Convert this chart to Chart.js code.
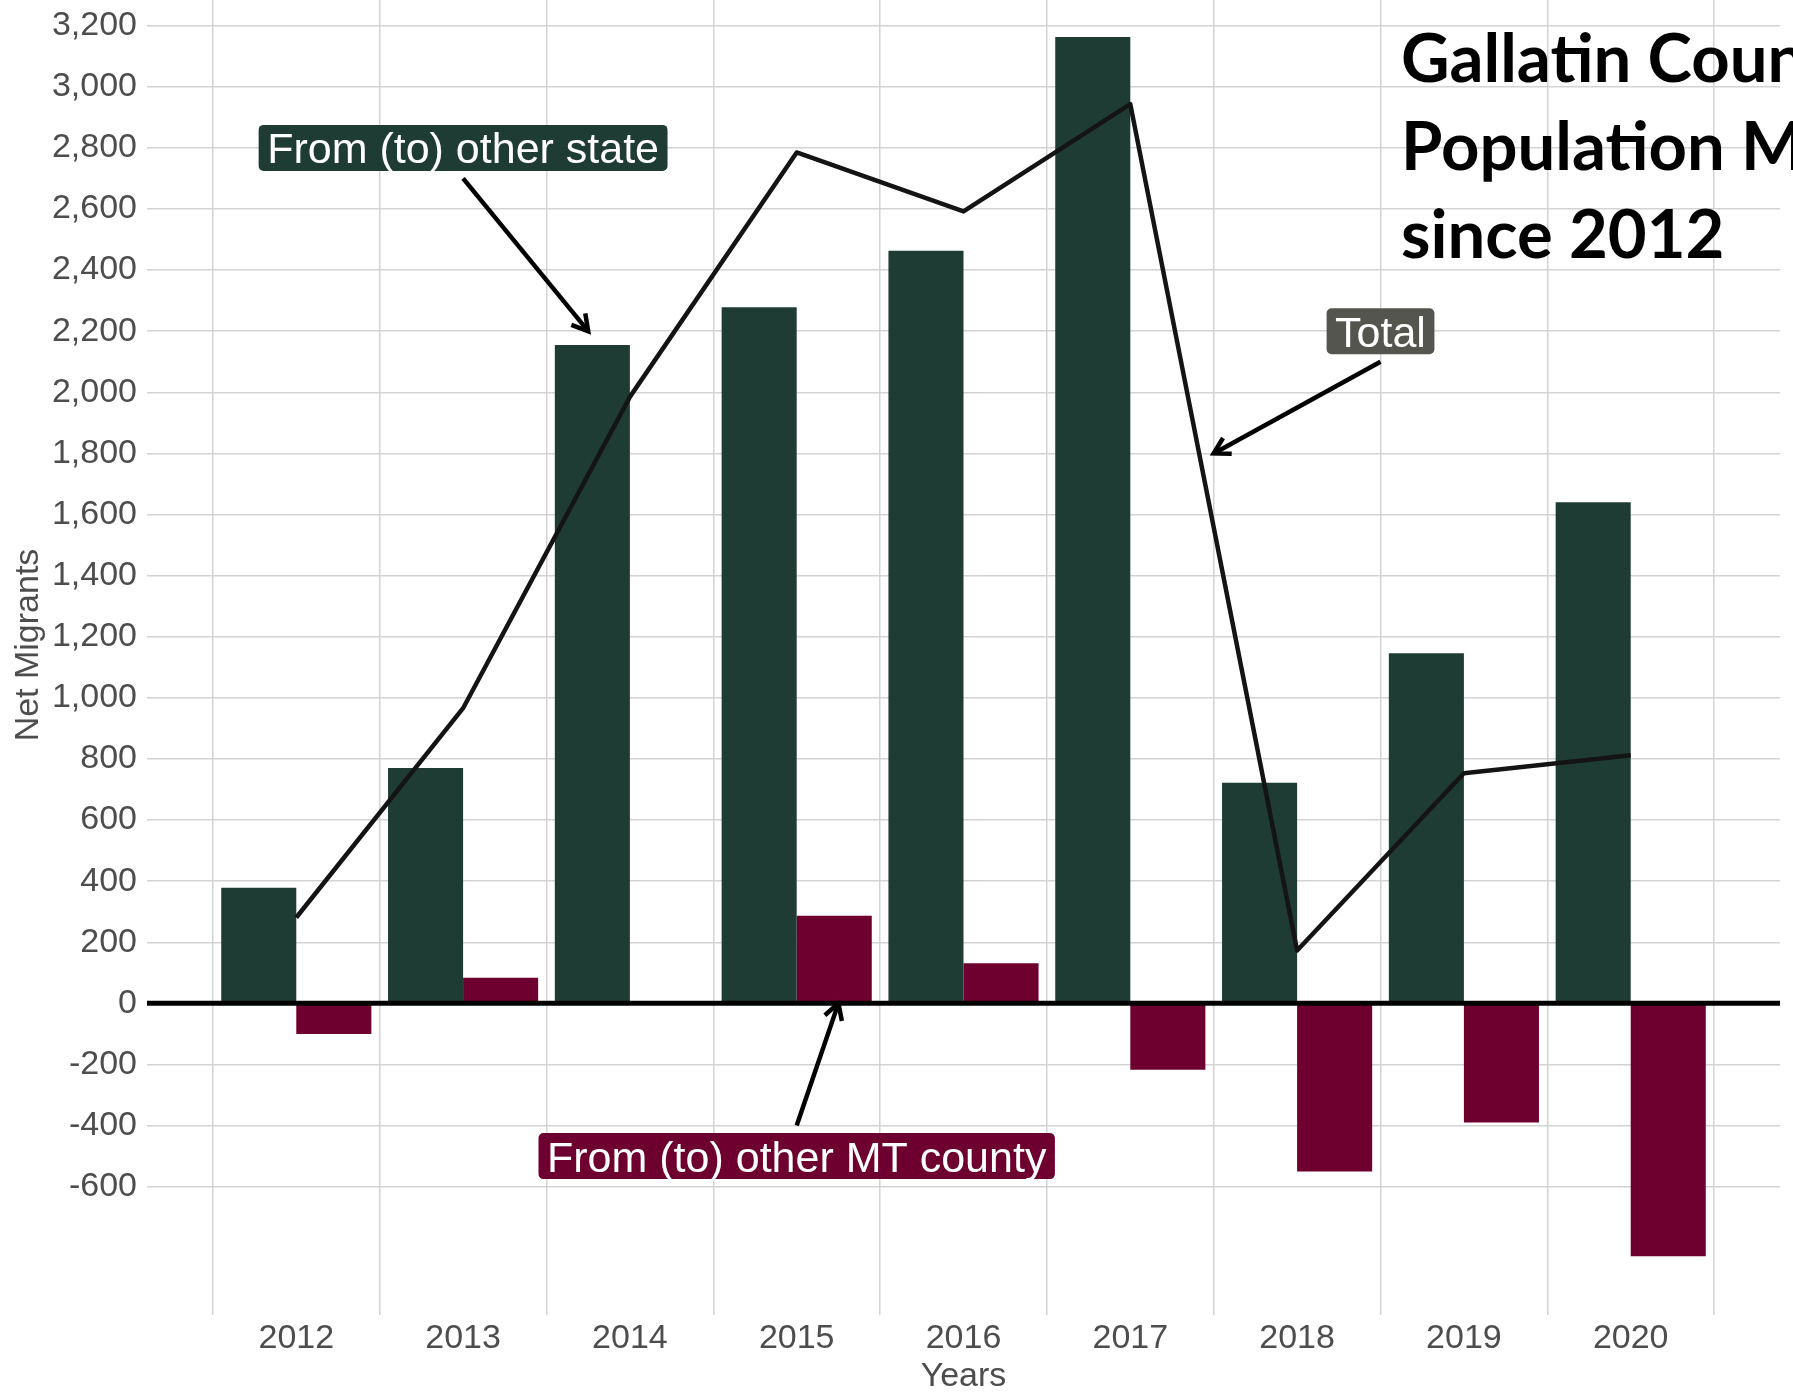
<!DOCTYPE html>
<html>
<head>
<meta charset="utf-8">
<script src="https://cdn.jsdelivr.net/npm/chart.js@4.4.1/dist/chart.umd.min.js"></script>
<style>
html,body{margin:0;padding:0;background:#ffffff;overflow:hidden;}
canvas{display:block;}
</style>
</head>
<body>
<canvas id="chart" width="1793" height="1397"></canvas>
<script>
// ---- data ----
const years = [2012, 2013, 2014, 2015, 2016, 2017, 2018, 2019, 2020];
const fromOtherState = [378, 770, 2155, 2278, 2463, 3163, 722, 1146, 1640];
const fromOtherMTCounty = [-100, 84, 0, 287, 131, -217, -550, -390, -828];
const totalNet = [281, 966, 1985, 2785, 2592, 2943, 173, 753, 812];
const yTickValues = [-600, -400, -200, 0, 200, 400, 600, 800, 1000, 1200, 1400, 1600, 1800, 2000, 2200, 2400, 2600, 2800, 3000, 3200];
const seriesNames = ['From (to) other state', 'From (to) other MT county', 'Total'];
const titleLines = ['Gallatin County', 'Population Migration', 'since 2012'];
const xAxisTitle = 'Years';
const yAxisTitle = 'Net Migrants';

// ---- styles ----
const GREEN = '#1f3c34';
const RED = '#6e0030';
const GRAY_LABEL = '#55554f';
const TEXT_GRAY = '#4d4d4d';
const GRID = '#d3d3d3';
const SANS = '"Liberation Sans", Arial, Helvetica, sans-serif';

const overlayPlugin = {
  id: 'overlay',
  afterDatasetsDraw(chart, args, opts) {
    const {ctx, chartArea, scales} = chart;
    const xs = scales.x, ys = scales.y;
    ctx.save();
    // zero line
    const y0 = ys.getPixelForValue(0);
    ctx.strokeStyle = '#000000';
    ctx.lineWidth = 5;
    ctx.beginPath();
    ctx.moveTo(chartArea.left, y0);
    ctx.lineTo(chartArea.right, y0);
    ctx.stroke();

    // arrows + labels
    opts.notes.forEach(n => {
      const x1 = xs.getPixelForValue(n.from[0]), y1 = ys.getPixelForValue(n.from[1]);
      const x2 = xs.getPixelForValue(n.to[0]), y2 = ys.getPixelForValue(n.to[1]);
      ctx.strokeStyle = '#000000';
      ctx.lineWidth = 4.5;
      ctx.lineCap = 'butt';
      ctx.lineJoin = 'miter';
      ctx.beginPath();
      ctx.moveTo(x1, y1);
      ctx.lineTo(x2, y2);
      ctx.stroke();
      const ang = Math.atan2(y1 - y2, x1 - x2);
      const L = 18, a = Math.PI / 6;
      ctx.beginPath();
      ctx.moveTo(x2 + L * Math.cos(ang + a), y2 + L * Math.sin(ang + a));
      ctx.lineTo(x2, y2);
      ctx.lineTo(x2 + L * Math.cos(ang - a), y2 + L * Math.sin(ang - a));
      ctx.stroke();

      const cx = xs.getPixelForValue(n.at[0]), cy = ys.getPixelForValue(n.at[1]);
      ctx.font = '43px ' + SANS;
      const tw = ctx.measureText(n.text).width;
      const w = tw + 17, h = 46;
      ctx.fillStyle = n.bg;
      ctx.beginPath();
      if (ctx.roundRect) ctx.roundRect(cx - w / 2, cy - h / 2, w, h, 5);
      else ctx.rect(cx - w / 2, cy - h / 2, w, h);
      ctx.fill();
      ctx.fillStyle = '#ffffff';
      ctx.textAlign = 'center';
      ctx.textBaseline = 'alphabetic';
      ctx.fillText(n.text, cx, cy + 0.358 * 43);
    });

    // y axis title (centred on the full, partly cropped panel)
    ctx.save();
    ctx.translate(29, 645);
    ctx.rotate(-Math.PI / 2);
    ctx.fillStyle = TEXT_GRAY;
    ctx.font = '34px ' + SANS;
    ctx.textAlign = 'center';
    ctx.textBaseline = 'middle';
    ctx.fillText(yAxisTitle, 0, 0);
    ctx.restore();

    // title block (overlapping plot, clipped by image edge)
    ctx.fillStyle = '#000000';
    ctx.font = 'bold 67px Lato, "Open Sans", sans-serif';
    ctx.textAlign = 'left';
    ctx.textBaseline = 'alphabetic';
    titleLines.forEach((t, i) => ctx.fillText(t, 1401, 82 + i * 88));
    ctx.restore();
  }
};

const zeroPad = s => { s.paddingTop = 0; s.paddingBottom = 0; s.paddingLeft = 0; s.paddingRight = 0; };

function build() {
  const toXY = arr => years.map((yr, i) => ({x: yr, y: arr[i]}));
  new Chart(document.getElementById('chart'), {
    type: 'bar',
    data: {
      datasets: [
        {type: 'bar', label: seriesNames[0], data: toXY(fromOtherState), backgroundColor: GREEN,
         borderWidth: 0, categoryPercentage: 0.9, barPercentage: 1.0, order: 1},
        {type: 'bar', label: seriesNames[1], data: toXY(fromOtherMTCounty), backgroundColor: RED,
         borderWidth: 0, categoryPercentage: 0.9, barPercentage: 1.0, order: 1},
        {type: 'line', label: seriesNames[2], data: toXY(totalNet), borderColor: '#141414',
         borderWidth: 4.5, pointRadius: 0, tension: 0, fill: false, borderJoinStyle: 'round', order: 0}
      ]
    },
    options: {
      responsive: false,
      animation: false,
      devicePixelRatio: 1,
      layout: {padding: {top: 0, right: 13, bottom: 0, left: 0}},
      plugins: {
        legend: {display: false},
        tooltip: {enabled: false},
        overlay: {
          notes: [
            {text: seriesNames[0], at: [2013, 2800], from: [2013, 2700], to: [2013.75, 2200], bg: GREEN},
            {text: seriesNames[2], at: [2018.5, 2200], from: [2018.5, 2100], to: [2017.5, 1800], bg: GRAY_LABEL},
            {text: 'From (to) other MT county', at: [2015, -500], from: [2015, -400], to: [2015.25, 0], bg: RED}
          ]
        }
      },
      scales: {
        x: {
          type: 'linear',
          min: 2011.105,
          max: 2020.895,
          offset: false,
          afterBuildTicks: s => { s.ticks = years.map(v => ({value: v})); },
          afterFit: s => { s.height = 82; zeroPad(s); },
          ticks: {callback: v => String(v), color: TEXT_GRAY, font: {family: SANS, size: 34},
                  padding: 3, maxRotation: 0, autoSkip: false},
          grid: {color: GRID, lineWidth: 1.5, drawTicks: false},
          border: {display: false},
          title: {display: true, text: xAxisTitle, color: TEXT_GRAY, font: {family: SANS, size: 34},
                  padding: {top: 0, bottom: 0}}
        },
        y: {
          type: 'linear',
          min: -1020,
          max: 3284,
          afterBuildTicks: s => { s.ticks = yTickValues.map(v => ({value: v})); },
          afterFit: s => { s.width = 147; zeroPad(s); },
          ticks: {callback: v => Number(v).toLocaleString('en-US'), color: TEXT_GRAY,
                  font: {family: SANS, size: 34}, padding: 10, autoSkip: false},
          grid: {color: GRID, lineWidth: 1.5, drawTicks: false},
          border: {display: false},
          title: {display: false}
        }
      }
    },
    plugins: [overlayPlugin]
  });
}

Promise.all([
  document.fonts.load('bold 67px Lato'),
  document.fonts.load('34px "Liberation Sans"'),
  document.fonts.load('43px "Liberation Sans"')
]).catch(() => {}).then(build);
</script>
</body>
</html>
